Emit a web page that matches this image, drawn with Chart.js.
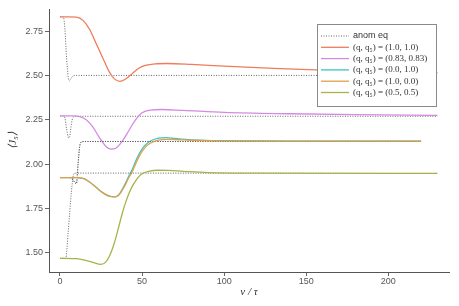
<!DOCTYPE html>
<html lang="en">
<head>
  <meta charset="UTF-8" />
  <title>J5 relaxation</title>
  <script src="https://cdn.jsdelivr.net/npm/chart.js"></script>
  <style>
    html, body { margin: 0; padding: 0; background: #fff; }
    #wrap { width: 459px; height: 306px; }
  </style>
</head>
<body>
  <div id="wrap"><canvas id="j5Chart"></canvas></div>

  <script>
    // tick labels
    const xTicks = [0, 50, 100, 150, 200];
    const yTicks = [1.50, 1.75, 2.00, 2.25, 2.50, 2.75];

    // series labels
    const labels = [
      '(q, q\u2085) = (1.0, 1.0)',
      '(q, q\u2085) = (0.83, 0.83)',
      '(q, q\u2085) = (0.0, 1.0)',
      '(q, q\u2085) = (1.0, 0.0)',
      '(q, q\u2085) = (0.5, 0.5)'
    ];
    const colors = ['#ef7c5b', '#d48ae0', '#3ec2c4', '#e2a04a', '#a9b24a'];

    // full dynamics
    const tA = [0, 5, 10, 14, 18, 22, 26, 30, 33, 36.5, 40, 44, 48, 52, 58, 65, 80, 100, 130, 160, 190, 230];
    const yA = [2.83, 2.83, 2.828, 2.81, 2.76, 2.68, 2.60, 2.52, 2.482, 2.466, 2.48, 2.51, 2.54, 2.556, 2.565, 2.567, 2.562, 2.552, 2.54, 2.53, 2.523, 2.516];

    const tB = [0, 8, 12, 16, 20, 24, 28, 31, 34, 38, 42, 46, 50, 55, 62, 75, 100, 140, 180, 230];
    const yB = [2.272, 2.272, 2.268, 2.25, 2.21, 2.15, 2.10, 2.085, 2.09, 2.13, 2.19, 2.25, 2.29, 2.305, 2.308, 2.303, 2.292, 2.284, 2.279, 2.275];

    const tC = [0, 10, 14, 18, 22, 26, 30, 33.5, 36, 38, 40, 42, 44, 46, 48, 50, 52, 54, 56, 60, 65, 70, 80, 100, 150, 220];
    const yC = [1.925, 1.925, 1.92, 1.90, 1.87, 1.84, 1.82, 1.816, 1.83, 1.86, 1.895, 1.935, 1.97, 2.015, 2.055, 2.085, 2.108, 2.124, 2.135, 2.147, 2.15, 2.145, 2.137, 2.132, 2.13, 2.13];

    const tD = [0, 10, 14, 18, 22, 26, 30, 33.5, 36, 38, 40, 42, 44, 46, 48, 50, 52, 54, 56, 60, 65, 70, 80, 100, 150, 220];
    const yD = [1.925, 1.925, 1.92, 1.90, 1.87, 1.84, 1.82, 1.816, 1.828, 1.855, 1.888, 1.925, 1.958, 2.0, 2.04, 2.072, 2.095, 2.112, 2.123, 2.135, 2.14, 2.139, 2.135, 2.131, 2.13, 2.13];

    const tE = [0, 10, 15, 20, 25, 28, 30, 32, 34, 36, 38, 40, 42, 44, 46, 48, 50, 54, 60, 66, 75, 90, 120, 230];
    const yE = [1.47, 1.468, 1.46, 1.447, 1.436, 1.45, 1.48, 1.525, 1.585, 1.655, 1.725, 1.785, 1.835, 1.875, 1.905, 1.93, 1.946, 1.96, 1.966, 1.965, 1.96, 1.953, 1.95, 1.948];

    // anomalous equilibrium (dotted)
    const tAnomA = [0, 2, 3, 4, 5, 5.5, 6.5, 8, 10, 230];
    const yAnomA = [2.83, 2.83, 2.76, 2.60, 2.49, 2.468, 2.48, 2.497, 2.50, 2.50];

    const tAnomB = [0, 2, 3, 4, 5, 5.5, 6, 7, 8, 10, 230];
    const yAnomB = [2.272, 2.272, 2.26, 2.20, 2.152, 2.148, 2.16, 2.23, 2.265, 2.27, 2.27];

    const tAnomC = [0, 6, 8, 10, 11, 12, 13, 15, 220];
    const yAnomC = [1.925, 1.925, 1.91, 1.89, 2.0, 2.10, 2.125, 2.128, 2.128];

    const tAnomE = [0, 3.5, 5, 7, 8, 9, 230];
    const yAnomE = [1.47, 1.47, 1.62, 1.85, 1.93, 1.95, 1.948];

    const pts = (ts, ys) => ts.map((t, i) => ({ x: t, y: ys[i] }));

    const groups = [
      [tAnomA, yAnomA, tA, yA],
      [tAnomB, yAnomB, tB, yB],
      [tAnomC, yAnomC, tC, yC],
      [tAnomC, yAnomC, tD, yD],
      [tAnomE, yAnomE, tE, yE]
    ];

    const datasets = [];
    groups.forEach((g, i) => {
      datasets.push({
        label: 'anom eq',
        data: pts(g[0], g[1]),
        borderColor: '#555',
        borderWidth: 0.9,
        borderDash: [1, 1.5],
        cubicInterpolationMode: 'monotone'
      });
      datasets.push({
        label: labels[i],
        data: pts(g[2], g[3]),
        borderColor: colors[i],
        borderWidth: 1.3,
        cubicInterpolationMode: 'monotone'
      });
    });
    // later series on top, like the original plotting order
    datasets.forEach((d, i) => { d.order = datasets.length - i; });

    const boxLegend = {
      id: 'boxLegend',
      afterDraw(chart) {
        const ctx = chart.ctx;
        const seen = [];
        chart.data.datasets.forEach(d => {
          if (!seen.find(s => s.label === d.label)) seen.push(d);
        });
        const x0 = 317, y0 = 24, w = 119, h = 82;
        ctx.save();
        ctx.fillStyle = '#fff';
        ctx.fillRect(x0, y0, w, h);
        ctx.strokeStyle = '#8a8a8a';
        ctx.lineWidth = 1;
        ctx.strokeRect(x0 + 0.5, y0 + 0.5, w, h);
        seen.forEach((d, i) => {
          const y = 36 + i * 11.3;
          ctx.beginPath();
          ctx.strokeStyle = d.borderColor;
          ctx.lineWidth = d.borderWidth;
          ctx.setLineDash(d.borderDash || []);
          ctx.moveTo(321, y);
          ctx.lineTo(349, y);
          ctx.stroke();
          ctx.setLineDash([]);
          ctx.fillStyle = '#333';
          ctx.textBaseline = 'middle';
          ctx.font = i === 0 ? '9px "Liberation Sans"' : '9px "Liberation Serif"';
          ctx.fillText(d.label, 353, y);
        });
        ctx.restore();
      }
    };

    new Chart(document.getElementById('j5Chart'), {
      type: 'line',
      data: { datasets: datasets },
      plugins: [boxLegend],
      options: {
        responsive: true,
        maintainAspectRatio: false,
        animation: false,
        layout: { padding: { top: 9, right: 10, left: 0, bottom: 0 } },
        elements: { point: { radius: 0 } },
        plugins: {
          legend: { display: false },
          tooltip: { enabled: false }
        },
        scales: {
          x: {
            type: 'linear',
            min: -6.7,
            max: 237,
            afterBuildTicks: s => { s.ticks = xTicks.map(v => ({ value: v })); },
            afterFit: s => { s.height = 34; },
            grid: { display: true, drawOnChartArea: false, drawTicks: true, tickLength: 4, color: '#666' },
            border: { color: '#555', width: 1 },
            ticks: { padding: 0, color: '#555', font: { family: 'Liberation Sans', size: 9 }, maxRotation: 0 },
            title: {
              display: true,
              text: 'v / \u03c4',
              color: '#333',
              padding: { top: 0, bottom: 7 },
              font: { family: 'Liberation Serif', size: 11, style: 'italic' }
            }
          },
          y: {
            min: 1.393,
            max: 2.874,
            afterBuildTicks: s => { s.ticks = yTicks.map(v => ({ value: v })); },
            afterFit: s => { s.width = 49; },
            grid: { display: true, drawOnChartArea: false, drawTicks: true, tickLength: 4, color: '#666' },
            border: { color: '#555', width: 1 },
            ticks: {
              padding: 2,
              color: '#555',
              font: { family: 'Liberation Sans', size: 9 },
              callback: v => v.toFixed(2)
            },
            title: {
              display: true,
              text: '\u27e8J\u2085\u27e9',
              color: '#333',
              padding: { top: 7, bottom: 0 },
              font: { family: 'Liberation Serif', size: 11, style: 'italic' }
            }
          }
        }
      }
    });
  </script>
</body>
</html>
